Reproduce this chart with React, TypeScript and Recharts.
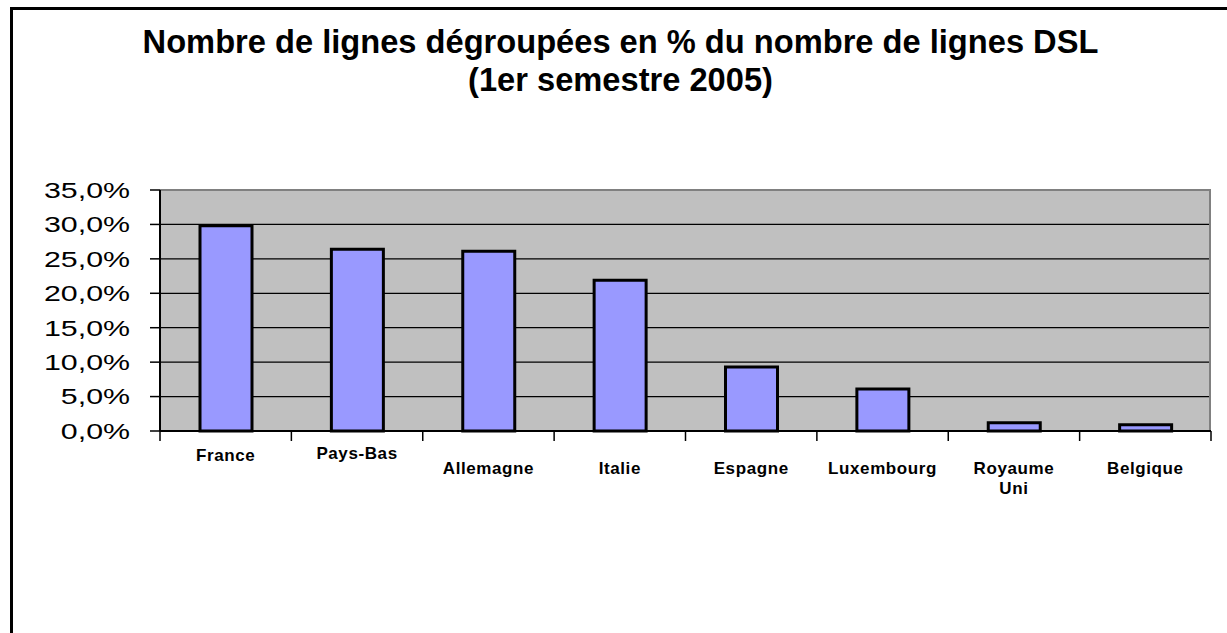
import React from "react";
import { BarChart, Bar, XAxis, YAxis, CartesianGrid, ReferenceLine } from "recharts";

// Nombre de lignes dégroupées en % du nombre de lignes DSL, 1er semestre 2005
const countries = [
  "France",
  "Pays-Bas",
  "Allemagne",
  "Italie",
  "Espagne",
  "Luxembourg",
  "Royaume Uni",
  "Belgique",
];
const unbundledShare = [29.8, 26.4, 26.1, 21.9, 9.3, 6.1, 1.2, 0.9];
const yTicks = [0, 5, 10, 15, 20, 25, 30, 35];

const data = countries.map((country, i) => ({ country, share: unbundledShare[i] }));

const W = 1227;
const H = 633;
const PLOT_RIGHT = 1211;
const PLOT_LEFT = 160;
const BAND = (PLOT_RIGHT - PLOT_LEFT) / countries.length;
// Excel staggered the first two labels a bit higher
const LABEL_DROP = [30, 28, 43, 43, 43, 43, 43, 43];

const fmt = (v: number) => `${v.toFixed(1).replace(".", ",")}%`;

function YTick(props: any) {
  const { x, y, payload } = props;
  return (
    <text
      transform={`translate(${x},${y}) scale(1.38,1)`}
      textAnchor="end"
      dy="0.36em"
      fontFamily="Liberation Sans, Arial, sans-serif"
      fontSize={22}
      fill="#000"
    >
      {fmt(payload.value)}
    </text>
  );
}

function XTick(props: any) {
  const { x, y, payload, index } = props;
  const lines = String(payload.value).split(" ");
  const left = x - BAND / 2;
  const drop = LABEL_DROP[index] ?? 43;
  return (
    <g>
      <line x1={left} x2={left} y1={y} y2={y + 10} stroke="#000" strokeWidth={1.5} />
      {index === countries.length - 1 && (
        <line x1={x + BAND / 2} x2={x + BAND / 2} y1={y} y2={y + 10} stroke="#000" strokeWidth={1.5} />
      )}
      {lines.map((ln, i) => (
        <text
          key={i}
          x={x}
          y={y + drop + i * 20}
          textAnchor="middle"
          fontFamily="Liberation Sans, Arial, sans-serif"
          fontWeight="bold"
          fontSize={17}
          letterSpacing={0.6}
          fill="#000"
        >
          {ln}
        </text>
      ))}
    </g>
  );
}

export default function App() {
  return (
    <div
      style={{
        position: "absolute",
        left: 0,
        top: 0,
        width: W,
        height: H,
        overflow: "hidden",
        background: "#fff",
      }}
    >
      <div
        style={{
          position: "absolute",
          left: 10,
          top: 7,
          width: 1300,
          height: 700,
          border: "3px solid #000",
        }}
      />
      <div
        style={{
          position: "absolute",
          left: 7,
          width: W,
          top: 22,
          textAlign: "center",
          fontFamily: "Liberation Sans, Arial, sans-serif",
          fontWeight: "bold",
          fontSize: 34,
          lineHeight: "38px",
          color: "#000",
        }}
      >
        <div style={{ transform: "scaleX(0.96)" }}>
          Nombre de lignes dégroupées en % du nombre de lignes DSL
        </div>
        <div style={{ transform: "scaleX(0.96)" }}>(1er semestre 2005)</div>
      </div>
      <div style={{ position: "absolute", left: 0, top: 0 }}>
        <BarChart
          width={W}
          height={H}
          data={data}
          margin={{ top: 190, right: W - PLOT_RIGHT, bottom: 122, left: PLOT_LEFT - 150 }}
          barCategoryGap={0}
        >
          <CartesianGrid
            vertical={false}
            fill="#c0c0c0"
            stroke="#000"
            strokeWidth={1.2}
          />
          <CartesianGrid
            horizontal={false}
            verticalPoints={[PLOT_RIGHT - 1]}
            stroke="#808080"
            strokeWidth={2}
          />
          <ReferenceLine y={35} stroke="#808080" strokeWidth={2} />
          <YAxis
            width={150}
            domain={[0, 35]}
            ticks={yTicks}
            interval={0}
            tickSize={10}
            tickMargin={20}
            tick={<YTick />}
            axisLine={{ stroke: "#000", strokeWidth: 2 }}
            tickLine={{ stroke: "#000", strokeWidth: 1.5 }}
          />
          <XAxis
            dataKey="country"
            height={80}
            interval={0}
            tickSize={0}
            tickMargin={0}
            tickLine={false}
            tick={<XTick />}
            axisLine={{ stroke: "#000", strokeWidth: 2 }}
          />
          <Bar
            dataKey="share"
            barSize={52}
            fill="#9999ff"
            stroke="#000"
            strokeWidth={3}
            isAnimationActive={false}
          />
        </BarChart>
      </div>
    </div>
  );
}
